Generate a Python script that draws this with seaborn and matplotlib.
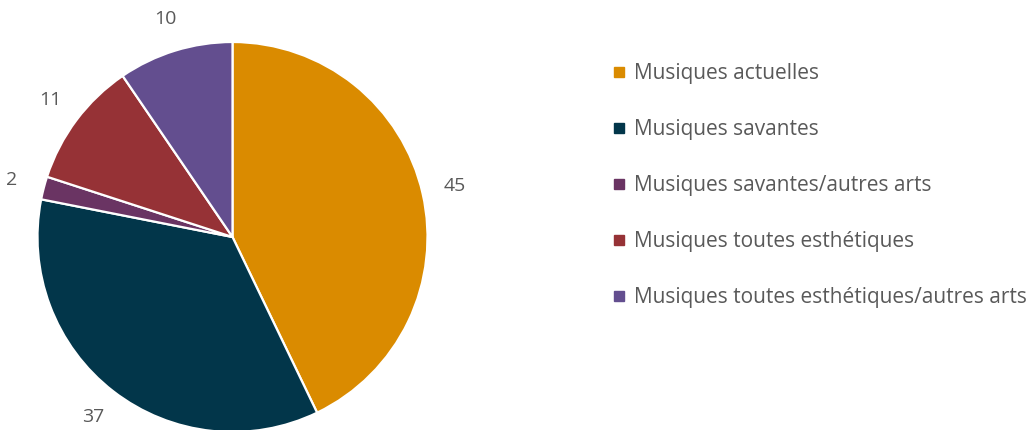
import matplotlib
matplotlib.use('Agg')
import matplotlib.pyplot as plt
import seaborn as sns
from matplotlib.lines import Line2D

sns.set_theme(style='white')
plt.rcParams['font.family'] = ['Open Sans', 'DejaVu Sans']

categories = ["Musiques actuelles", "Musiques savantes", "Musiques savantes/autres arts",
              "Musiques toutes esthétiques", "Musiques toutes esthétiques/autres arts"]
values = [45, 37, 2, 11, 10]
colors = ["#DA8B00", "#02364A", "#6A3463", "#963236", "#634E8F"]
text_color = "#595959"

fig = plt.figure(figsize=(10.31, 4.30), dpi=100)
W, H = 1031, 430
cx, cy, r = 232.5, 430 - 237, 195
ax = fig.add_axes([(cx - r) / W, (cy - r) / H, 2 * r / W, 2 * r / H])

wedges, texts = ax.pie(values, colors=colors, startangle=90, counterclock=False,
                       labels=[str(v) for v in values], labeldistance=1.17,
                       wedgeprops=dict(edgecolor='white', linewidth=1.6),
                       textprops=dict(color=text_color, fontsize=14))
for t in texts:
    t.set_ha('center')
    t.set_va('center')
ax.set_aspect('equal')
ax.set_xlim(-1, 1)
ax.set_ylim(-1, 1)
ax.axis('off')

handles = [Line2D([0], [0], marker='s', linestyle='', markersize=6.5,
                  markerfacecolor=c, markeredgecolor=c) for c in colors]
fig.legend(handles, categories, loc='upper left', bbox_to_anchor=(603 / W, 1 - 55 / H),
           frameon=False, fontsize=15, labelcolor=text_color, labelspacing=1.68,
           handlelength=0.7, handletextpad=0.4, borderaxespad=0)

fig.savefig('out.png', dpi=100)
